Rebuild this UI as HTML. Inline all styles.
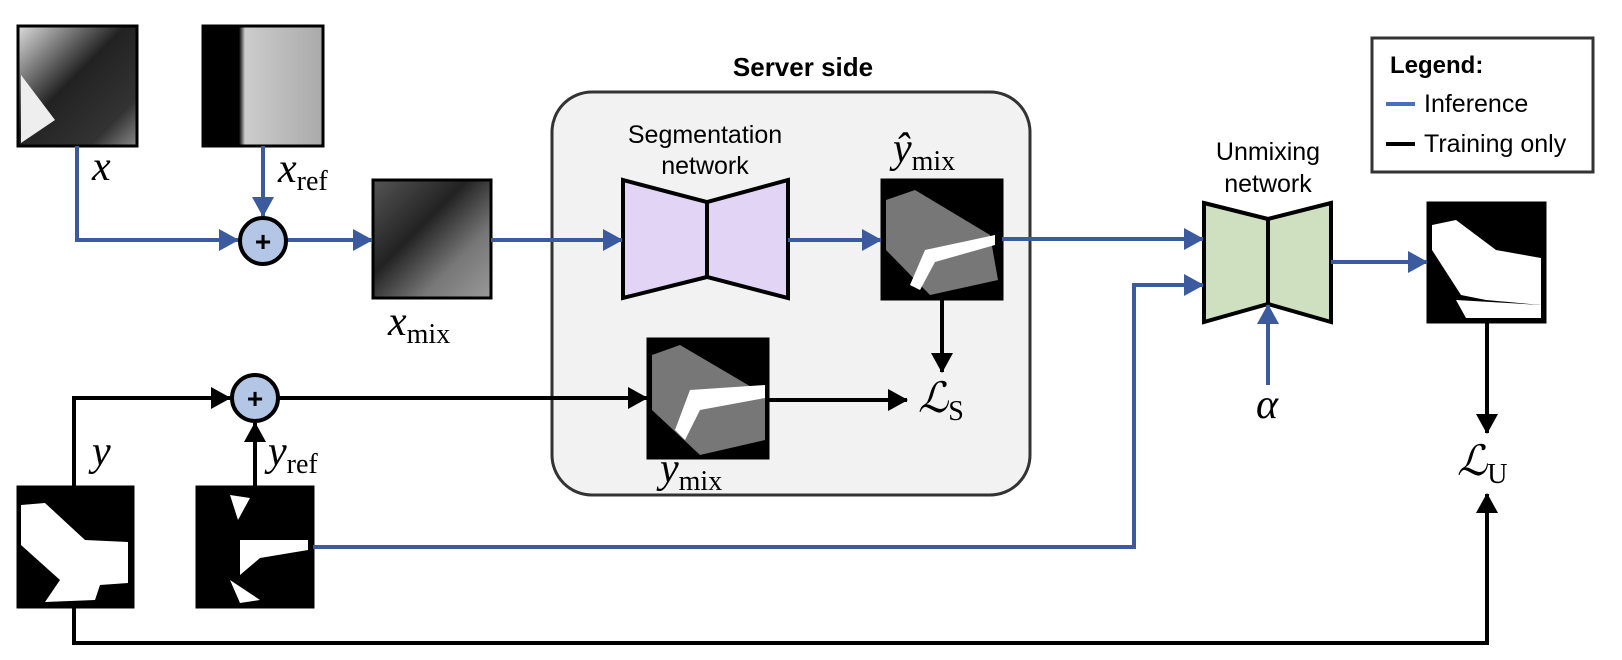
<!DOCTYPE html>
<html><head><meta charset="utf-8"><style>
html,body{margin:0;padding:0;background:#fff;width:1622px;height:660px;overflow:hidden}
svg{display:block}
.m{font-family:"Liberation Serif",serif;font-style:italic;font-size:42px;fill:#000}
.s{font-family:"Liberation Serif",serif;font-style:normal;font-size:28px}
.t{font-family:"Liberation Sans",sans-serif;font-size:25px;fill:#000}
</style></head><body>
<svg width="1622" height="660" viewBox="0 0 1622 660" xmlns="http://www.w3.org/2000/svg">
<defs>
<marker id="ab" markerWidth="20" markerHeight="22" refX="19" refY="11" orient="auto" markerUnits="userSpaceOnUse" viewBox="0 0 20 22"><path d="M0,0 L20,11 L0,22z" fill="#3b5b9e"/></marker>
<marker id="ak" markerWidth="20" markerHeight="22" refX="19" refY="11" orient="auto" markerUnits="userSpaceOnUse" viewBox="0 0 20 22"><path d="M0,0 L20,11 L0,22z" fill="#000"/></marker>
<linearGradient id="g1" x1="0" y1="0" x2="1" y2="1"><stop offset="0" stop-color="#ddd"/><stop offset=".45" stop-color="#222"/><stop offset=".8" stop-color="#333"/><stop offset="1" stop-color="#888"/></linearGradient>
<linearGradient id="g2" x1="0" y1="0" x2="1" y2="0"><stop offset="0" stop-color="#000"/><stop offset=".3" stop-color="#000"/><stop offset=".35" stop-color="#ccc"/><stop offset="1" stop-color="#aaa"/></linearGradient>
<linearGradient id="g3" x1="0" y1="0" x2="1" y2="1"><stop offset="0" stop-color="#555"/><stop offset=".4" stop-color="#222"/><stop offset=".7" stop-color="#777"/><stop offset="1" stop-color="#999"/></linearGradient>
</defs>
<style>.bl{stroke:#3b5b9e;stroke-width:4;fill:none}.bk{stroke:#000;stroke-width:4;fill:none}</style>

<rect x="552" y="92" width="478" height="403" rx="40" fill="#f2f2f2" stroke="#333" stroke-width="3"/>
<text x="803" y="76" text-anchor="middle" style="font-family:'Liberation Sans',sans-serif;font-weight:bold;font-size:26px">Server side</text>

<rect x="18" y="26" width="119" height="120" fill="url(#g1)" stroke="#000" stroke-width="3"/>
<path d="M21,75 L55,120 L21,143z" fill="#eee"/>
<rect x="203" y="26" width="120" height="120" fill="url(#g2)" stroke="#000" stroke-width="3"/>
<rect x="373" y="180" width="118" height="118" fill="url(#g3)" stroke="#000" stroke-width="3"/>
<rect x="882" y="180" width="120" height="119" fill="#000" stroke="#000" stroke-width="3"/>
<path d="M886,200 L915,190 L990,235 L998,280 L930,295 L886,250z" fill="#777"/>
<path d="M925,250 L995,235 L995,245 L935,262 L920,290 L910,285z" fill="#fff"/>
<rect x="648" y="339" width="120" height="119" fill="#000" stroke="#000" stroke-width="3"/>
<path d="M652,355 L680,345 L765,395 L765,440 L700,455 L652,410z" fill="#777"/>
<path d="M690,390 L765,385 L765,398 L700,410 L685,440 L675,430z" fill="#fff"/>
<rect x="18" y="487" width="115" height="120" fill="#000" stroke="#000" stroke-width="3"/>
<path d="M21,505 L45,503 L85,540 L128,542 L128,583 L100,585 L95,600 L45,602 L60,580 L21,545z" fill="#fff"/>
<rect x="197" y="487" width="116" height="120" fill="#000" stroke="#000" stroke-width="3"/>
<path d="M240,540 L308,540 L308,550 L260,558 L240,575z M230,495 L250,498 L238,520z M230,580 L260,600 L240,603z" fill="#fff"/>
<rect x="1428" y="203" width="117" height="119" fill="#000" stroke="#000" stroke-width="3"/>
<path d="M1432,225 L1456,220 L1496,250 L1541,258 L1541,305 L1486,300 L1461,295 L1432,250z" fill="#fff"/>
<path d="M1456,300 L1541,305 L1541,318 L1466,318z" fill="#fff"/>

<path d="M623,180 L707,202 L788,180 L788,298 L707,277 L623,298z" fill="#e2d4f4" stroke="#000" stroke-width="4"/>
<line x1="707" y1="202" x2="707" y2="277" stroke="#000" stroke-width="4"/>
<path d="M1204,203 L1268,219 L1331,203 L1331,322 L1268,304 L1204,322z" fill="#cfe0c0" stroke="#000" stroke-width="4"/>
<line x1="1268" y1="219" x2="1268" y2="304" stroke="#000" stroke-width="4"/>

<path class="bl" d="M77,146 V240 H238" marker-end="url(#ab)"/>
<path class="bl" d="M263,146 V216" marker-end="url(#ab)"/>
<path class="bl" d="M287,240 H372" marker-end="url(#ab)"/>
<path class="bl" d="M491,240 H622" marker-end="url(#ab)"/>
<path class="bl" d="M788,240 H881" marker-end="url(#ab)"/>
<path class="bl" d="M1002,239 H1203" marker-end="url(#ab)"/>
<path class="bl" d="M313,547 H1134 V285 H1203" marker-end="url(#ab)"/>
<path class="bl" d="M1268,385 V305" marker-end="url(#ab)"/>
<path class="bl" d="M1331,262 H1427" marker-end="url(#ab)"/>

<path class="bk" d="M74,487 V398 H230" marker-end="url(#ak)"/>
<path class="bk" d="M255,487 V423" marker-end="url(#ak)"/>
<path class="bk" d="M279,398 H647" marker-end="url(#ak)"/>
<path class="bk" d="M768,400 H907" marker-end="url(#ak)"/>
<path class="bk" d="M942,299 V372" marker-end="url(#ak)"/>
<path class="bk" d="M1487,322 V433" marker-end="url(#ak)"/>
<path class="bk" d="M74,607 V643 H1487 V494" marker-end="url(#ak)"/>

<circle cx="263" cy="241" r="23" fill="#b4c6e6" stroke="#000" stroke-width="4"/>
<text x="263" y="251" text-anchor="middle" style="font-family:'Liberation Sans',sans-serif;font-weight:bold;font-size:28px">+</text>
<circle cx="255" cy="398" r="23" fill="#b4c6e6" stroke="#000" stroke-width="4"/>
<text x="255" y="408" text-anchor="middle" style="font-family:'Liberation Sans',sans-serif;font-weight:bold;font-size:28px">+</text>

<text class="m" x="92" y="180">x</text>
<text class="m" x="278" y="182">x<tspan class="s" dy="8">ref</tspan></text>
<text class="m" x="388" y="335">x<tspan class="s" dy="8">mix</tspan></text>
<text class="m" x="893" y="162">ŷ<tspan class="s" dy="8">mix</tspan></text>
<text class="m" x="660" y="482">y<tspan class="s" dy="8">mix</tspan></text>
<text class="m" x="92" y="465">y</text>
<text class="m" x="268" y="465">y<tspan class="s" dy="8">ref</tspan></text>
<text class="m" x="918" y="412">ℒ<tspan class="s" dy="8">S</tspan></text>
<text class="m" x="1457" y="475">ℒ<tspan class="s" dy="8">U</tspan></text>
<text class="m" x="1256" y="418">α</text>
<text class="t" x="705" y="143" text-anchor="middle">Segmentation</text>
<text class="t" x="705" y="174" text-anchor="middle">network</text>
<text class="t" x="1268" y="160" text-anchor="middle">Unmixing</text>
<text class="t" x="1268" y="192" text-anchor="middle">network</text>

<rect x="1372" y="38" width="221" height="134" fill="#fff" stroke="#333" stroke-width="3"/>
<text x="1390" y="73" style="font-family:'Liberation Sans',sans-serif;font-weight:bold;font-size:24px">Legend:</text>
<line x1="1386" y1="104" x2="1415" y2="104" stroke="#4a6fc0" stroke-width="4"/>
<text class="t" x="1424" y="112">Inference</text>
<line x1="1386" y1="144" x2="1415" y2="144" stroke="#000" stroke-width="4"/>
<text class="t" x="1424" y="152">Training only</text>
</svg>
</body></html>
